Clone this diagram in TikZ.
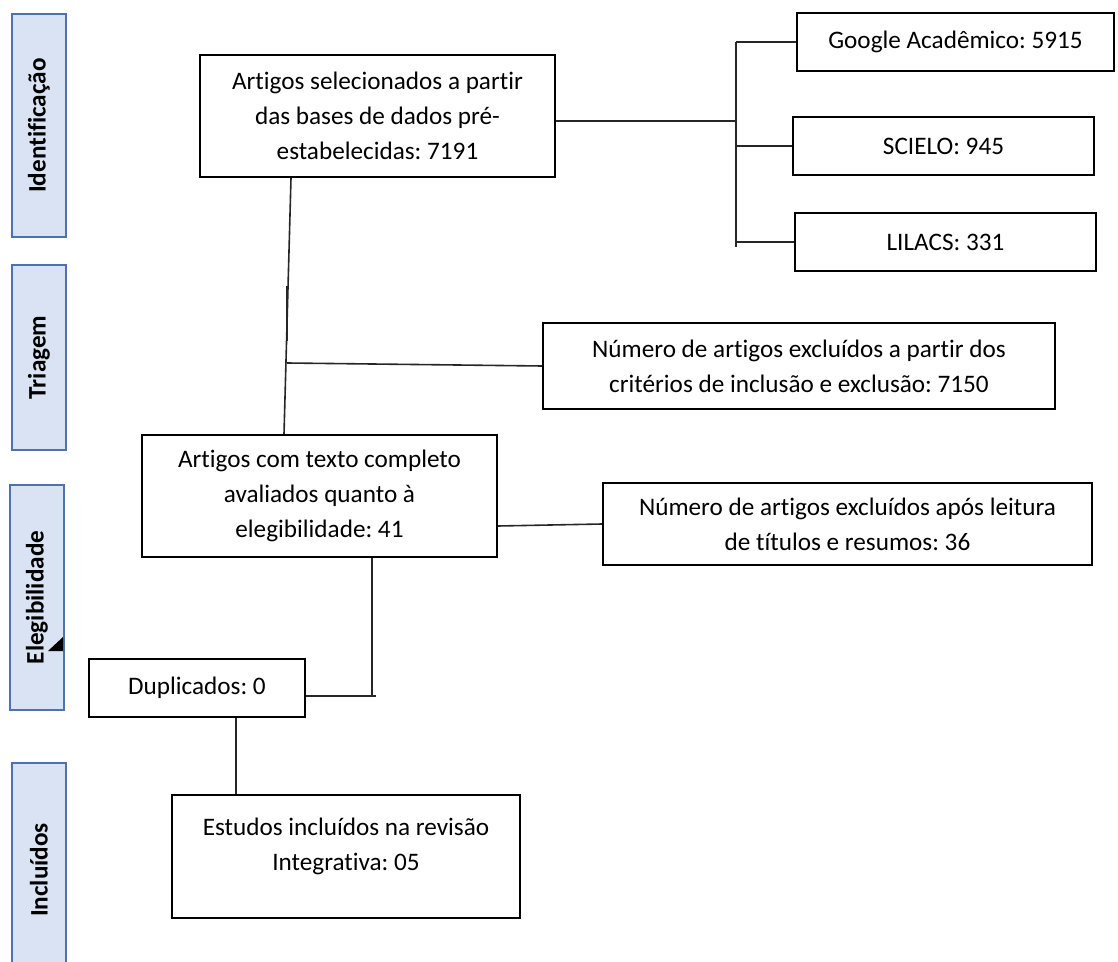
\documentclass[tikz,border=0pt]{standalone}
\usepackage{fontspec}
\setmainfont{Carlito}[Ligatures={TeX,NoCommon}]
\usetikzlibrary{positioning, calc}
\definecolor{barfill}{RGB}{218,227,243}
\definecolor{barline}{RGB}{79,113,175}
\tikzset{
  bx/.style={draw=black, fill=white, rounded corners=0pt,
             minimum width=#1, align=center, inner sep=2pt,
             font=\fontsize{12.6}{17.5}\selectfont, line width=1pt},
  bar/.style={draw=barline, fill=barfill, rotate=90,
              minimum width=#1, minimum height=27pt, inner sep=0pt,
              font=\fontsize{12.6}{15}\selectfont\bfseries, line width=1pt},
  ln/.style={line width=0.8pt, draw=black!85},
}
\frenchspacing
\begin{document}
\begin{tikzpicture}[x=0.5pt, y=-0.5pt]
    \useasboundingbox (0,0) rectangle (1118,962);

    % phase bars
    \node[bar=111.5pt] (idf) at (39, 125.5) {Identificação};
    \node[bar=92.5pt]  (tri) at (39, 357.5) {Triagem};
    \node[bar=112.5pt] (ele) at (37, 597.5) {Elegibilidade};
    \node[bar=107pt]   (inc) at (39, 870)   {Incluídos};
    \fill (63,637) -- (63,651) -- (48,651) -- cycle;

    % boxes
    \node[bx=177.5pt, minimum height=61pt] (sel)  at (377.5, 116)   {Artigos selecionados a partir\\das bases de dados pré-\\estabelecidas: 7191};
    \node[bx=158.5pt, minimum height=29pt] (gga)  at (955.5,  42)   {Google Acadêmico: 5915};
    \node[bx=150.5pt, minimum height=29pt] (sci)  at (943.5, 146)   {SCIELO: 945};
    \node[bx=150.5pt, minimum height=29pt] (lil)  at (945.5, 242)   {LILACS: 331};
    \node[bx=256pt,   minimum height=43pt] (exc1) at (799,   366)   {Número de artigos excluídos a partir dos\\critérios de inclusão e exclusão: 7150};
    \node[bx=177.5pt, minimum height=61pt] (txt)  at (319.5, 496)   {Artigos com texto completo\\avaliados quanto à\\elegibilidade: 41};
    \node[bx=244.5pt, minimum height=41pt] (exc2) at (847.5, 524)   {Número de artigos excluídos após leitura\\de títulos e resumos: 36};
    \node[bx=108pt,   minimum height=29pt] (dup)  at (197,   688)   {Duplicados: 0};
    \node[bx=174pt,   minimum height=61.5pt, text depth=12pt] (est) at (346, 856.5) {Estudos incluídos na revisão\\Integrativa: 05};

    % sources
    \coordinate (spn) at (736,121);
    \draw[ln] (sel.east |- spn) -- (spn);
    \draw[ln] (gga.west -| spn) -- ($(lil.west -| spn)+(0,5)$);
    \foreach \b in {gga,sci,lil}
      \draw[ln] (\b.west -| spn) -- (\b.west);

    % trunk
    \draw[ln] ($(sel.south west)+(92,0)$) -- ($(txt.north west)+(143,0)$);
    \draw[ln] ($(sel.south west)+(88,108)$) -- ++(0,55);
    \coordinate (tj) at (287,363);
    \draw[ln] (tj) -- (exc1.west);
    \draw[ln] ($(txt.south east)+(0,-32)$) -- (exc2.west);

    % down to the end
    \draw[ln] ($(txt.south west)+(231,0)$) -- ++(0,138);
    \draw[ln] ($(dup.south east)+(0,-22)$) -- ++(70,0);
    \draw[ln] ($(dup.south west)+(148,0)$) -- ($(est.north west)+(65,0)$);
  \end{tikzpicture}
\end{document}
